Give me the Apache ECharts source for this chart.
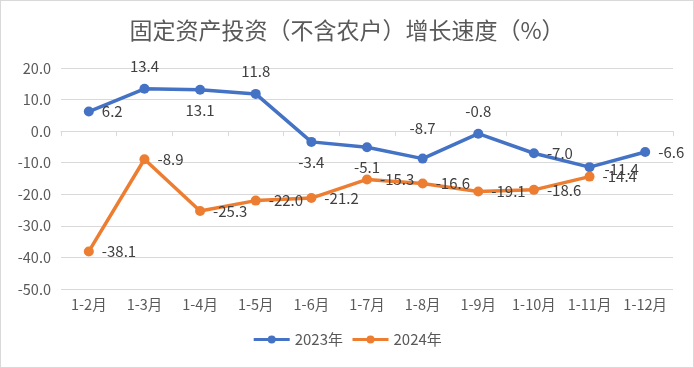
<!DOCTYPE html>
<html><head><meta charset="utf-8">
<script src="https://cdn.jsdelivr.net/npm/echarts@6/dist/echarts.min.js"></script>
<style>
html,body{margin:0;padding:0;background:#fff;}
#c{width:694px;height:368px;box-sizing:border-box;border:1px solid #d9d9d9;}
</style></head>
<body><div id="c"></div>
<script>
var categories = ['1-2月','1-3月','1-4月','1-5月','1-6月','1-7月','1-8月','1-9月','1-10月','1-11月','1-12月'];
var s2023 = [6.2, 13.4, 13.1, 11.8, -3.4, -5.1, -8.7, -0.8, -7.0, -11.4, -6.6];
var s2024 = [-38.1, -8.9, -25.3, -22.0, -21.2, -15.3, -16.6, -19.1, -18.6, -14.4];
var yTicks = [-50, -40, -30, -20, -10, 0, 10, 20];
var pos2023 = ['right','top','bottom','top','bottom','bottom','top','top','right','right','right'];
var pos2024 = ['right','right','right','right','right','right','right','right','right','right'];

function build(vals, pos){
  return vals.map(function(v,i){
    var p = pos[i];
    var lab = {position:p, distance: p==='right'?8:(p==='top'?10:8)};
    if (p==='right' && i===9 && vals===s2023) { lab.offset=[2,2]; }
    if (p==='top' && i===6 && vals===s2023) { lab.distance=18; }
    return {value:v, label:lab};
  });
}
var chart = echarts.init(document.getElementById('c'));
var font = '"Noto Sans CJK SC","Open Sans",sans-serif';
chart.setOption({
  animation:false,
  textStyle:{fontFamily:font},
  title:{text:'固定资产投资（不含农户）增长速度（%）',left:'center',top:13,
    textStyle:{fontSize:23,fontWeight:'normal',color:'#595959',fontFamily:font}},
  legend:{bottom:15,left:'center',itemWidth:36,itemHeight:10,itemGap:8,
    lineStyle:{width:3},
    textStyle:{fontSize:15,color:'#595959',fontFamily:font},
    data:['2023年','2024年']},
  grid:{left:60,right:20,top:67,bottom:78},
  xAxis:[{type:'category',data:categories,position:'bottom',
      axisLine:{onZero:true,lineStyle:{color:'#d9d9d9',width:1}},
      axisTick:{show:true,length:5,lineStyle:{color:'#d9d9d9'}},
      axisLabel:{show:false}},
    {type:'category',data:categories,position:'bottom',
      axisLine:{show:false,onZero:false},axisTick:{show:false},
      axisLabel:{color:'#595959',fontSize:14.5,margin:8,interval:0,hideOverlap:false,fontFamily:font}}],
  yAxis:{type:'value',min:yTicks[0],max:yTicks[yTicks.length-1],interval:10,
    axisLine:{show:false},axisTick:{show:false},
    splitLine:{lineStyle:{color:'#d9d9d9'}},
    axisLabel:{color:'#595959',fontSize:14.5,margin:10,formatter:function(v){return v.toFixed(1);}}},
  series:[
    {name:'2023年',type:'line',xAxisIndex:0,data:build(s2023,pos2023),
     symbol:'circle',symbolSize:10,color:'#4472C4',lineStyle:{width:3.5,color:'#4472C4'},
     itemStyle:{color:'#4472C4'},
     label:{show:true,fontSize:15,color:'#404040',formatter:function(p){return p.value.toFixed(1);}}},
    {name:'2024年',type:'line',xAxisIndex:0,data:build(s2024,pos2024),
     symbol:'circle',symbolSize:10,color:'#ED7D31',lineStyle:{width:3.5,color:'#ED7D31'},
     itemStyle:{color:'#ED7D31'},
     label:{show:true,fontSize:15,color:'#404040',formatter:function(p){return p.value.toFixed(1);}}}
  ]
});
</script></body></html>
